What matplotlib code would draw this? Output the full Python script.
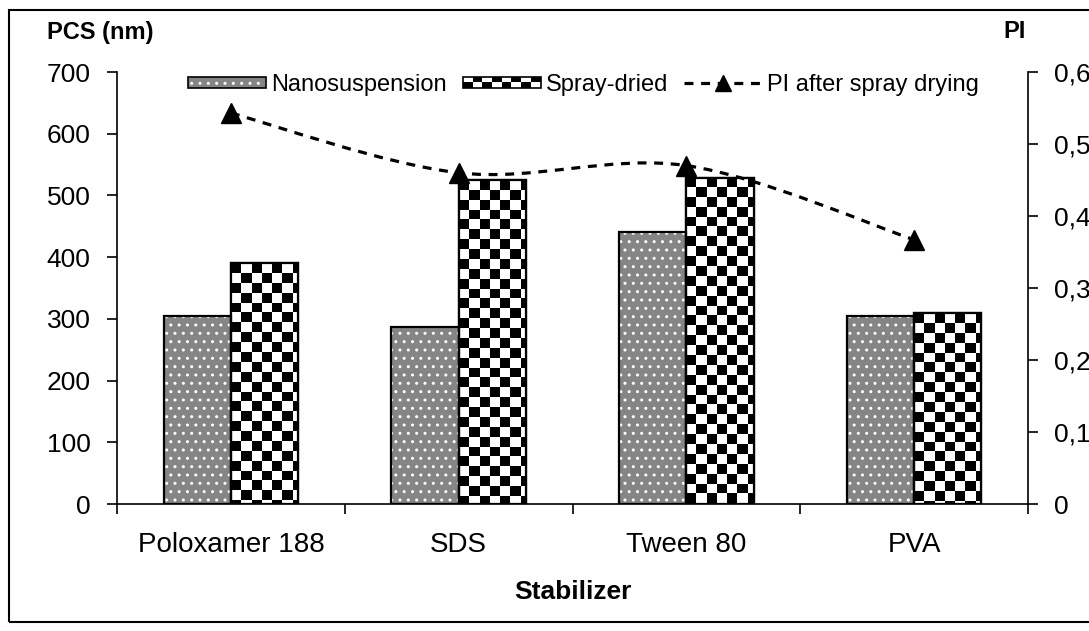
import numpy as np
import matplotlib
matplotlib.use('Agg')
import matplotlib.pyplot as plt
from matplotlib.patches import Rectangle
from matplotlib.lines import Line2D
from matplotlib.path import Path
from matplotlib.patches import PathPatch
from matplotlib.legend_handler import HandlerBase

plt.rcParams['font.family'] = ['Liberation Sans', 'DejaVu Sans']
plt.rcParams['hatch.linewidth'] = 1.0

# data
stabilizers = ['Poloxamer 188', 'SDS', 'Tween 80', 'PVA']
nano_size = [304, 287, 440, 304]
spray_size = [390, 525, 529, 309]
pi_after = [0.543, 0.460, 0.470, 0.367]
left_ticks = [0, 100, 200, 300, 400, 500, 600, 700]
right_ticks = [0, 0.1, 0.2, 0.3, 0.4, 0.5, 0.6]
right_labels = ['0', '0,1', '0,2', '0,3', '0,4', '0,5', '0,6']

NANO_FACE = '#858585'
W = 0.295
CELL_X = W / 6.6
CELL_Y = 16.0
DASH = (0, (2.8, 2.4))

fig = plt.figure(figsize=(10.89, 6.31), dpi=100)
ax = fig.add_axes([117 / 1089, 127 / 631, (1028 - 117) / 1089, (504 - 72) / 631])
ax2 = ax.twinx()

x = np.arange(len(stabilizers))

# nanosuspension: gray with white dots
ax.bar(x - W / 2, nano_size, W, facecolor=NANO_FACE, edgecolor='white',
       hatch='..', linewidth=0, zorder=2)
ax.bar(x - W / 2, nano_size, W, fill=False, edgecolor='black', linewidth=1.6, zorder=4)

# spray-dried: checkerboard clipped into each bar
spray = ax.bar(x + W / 2, spray_size, W, facecolor='white', edgecolor='black',
               linewidth=1.6, zorder=2)
for b in spray:
    left = b.get_x()
    h = b.get_height()
    ncol = int(np.ceil(W / CELL_X))
    nrow = int(np.ceil(h / CELL_Y))
    board = (np.add.outer(np.arange(nrow), np.arange(ncol)) % 2).astype(float)
    im = ax.imshow(board, cmap='gray', vmin=0, vmax=1, interpolation='nearest',
                   extent=[left, left + ncol * CELL_X, h - nrow * CELL_Y, h],
                   origin='upper', aspect='auto', zorder=3)
    im.set_clip_path(b)
ax.bar(x + W / 2, spray_size, W, fill=False, edgecolor='black', linewidth=1.6, zorder=4)

ax.set_xlim(-0.5, len(stabilizers) - 0.5)
ax.set_ylim(0, 700)
ax.set_yticks(left_ticks)
ax.set_xticks(np.arange(len(stabilizers) + 1) - 0.5)
ax.set_xticklabels([])
ax.set_xticks(x, minor=True)
ax.set_xticklabels(stabilizers, minor=True)
ax.tick_params(axis='x', which='minor', length=0, pad=20, labelsize=20)
ax.tick_params(axis='x', which='major', direction='out', length=7, width=1.2)
ax.tick_params(axis='y', direction='out', length=7, width=1.2, labelsize=19, pad=12)
for s in ['top', 'right']:
    ax.spines[s].set_visible(False)
for s in ['left', 'bottom']:
    ax.spines[s].set_linewidth(1.2)

# PI line, smoothed like the spreadsheet curve (bezier through the points)
ax2.set_ylim(0, 0.6)
ax2.set_yticks(right_ticks)
ax2.set_yticklabels(right_labels)
ax2.tick_params(axis='y', direction='out', length=7, width=1.2, labelsize=19, pad=12)
for s in ['top', 'left', 'bottom']:
    ax2.spines[s].set_visible(False)
ax2.spines['right'].set_linewidth(1.2)

px = list(x.astype(float))
py = list(pi_after)
verts = [(px[0], py[0])]
codes = [Path.MOVETO]
n = len(px)
for i in range(n - 1):
    p0 = (px[max(i - 1, 0)], py[max(i - 1, 0)])
    p1 = (px[i], py[i])
    p2 = (px[i + 1], py[i + 1])
    p3 = (px[min(i + 2, n - 1)], py[min(i + 2, n - 1)])
    c1 = (p1[0] + (p2[0] - p0[0]) / 6, p1[1] + (p2[1] - p0[1]) / 6)
    c2 = (p2[0] - (p3[0] - p1[0]) / 6, p2[1] - (p3[1] - p1[1]) / 6)
    verts += [c1, c2, p2]
    codes += [Path.CURVE4] * 3
curve = PathPatch(Path(verts, codes), fill=False, edgecolor='black', linewidth=2.3,
                  linestyle=DASH, transform=ax2.transData, zorder=5)
ax2.add_patch(curve)
ax2.plot(x, pi_after, linestyle='none', marker='^', markersize=15,
         color='black', zorder=6)


class PatternHandler(HandlerBase):
    def __init__(self, kind):
        super().__init__()
        self.kind = kind

    def create_artists(self, legend, orig_handle, xdescent, ydescent, width,
                       height, fontsize, trans):
        arts = []
        y0 = -ydescent + height * 0.15
        hh = height * 0.7
        if self.kind == 'nano':
            arts.append(Rectangle((-xdescent, y0), width, hh, facecolor=NANO_FACE,
                                  edgecolor='white', hatch='..', linewidth=0,
                                  transform=trans))
        else:
            arts.append(Rectangle((-xdescent, y0), width, hh, facecolor='white',
                                  edgecolor='none', transform=trans))
            nc = 8
            cw = width / nc
            for r in range(2):
                for c in range(nc):
                    if (r + c) % 2 == 0:
                        arts.append(Rectangle((-xdescent + c * cw, y0 + r * hh / 2),
                                              cw, hh / 2, facecolor='black',
                                              edgecolor='none', transform=trans))
        arts.append(Rectangle((-xdescent, y0), width, hh, fill=False,
                              edgecolor='black', linewidth=1.2, transform=trans))
        return arts


h_nano = Rectangle((0, 0), 1, 1)
h_spray = Rectangle((0, 0), 1, 1)
h_pi = Line2D([], [], color='black', linestyle=DASH, linewidth=2.3,
              marker='^', markersize=12)
leg = ax.legend([h_nano, h_spray, h_pi],
                ['Nanosuspension', 'Spray-dried', 'PI after spray drying'],
                handler_map={h_nano: PatternHandler('nano'),
                             h_spray: PatternHandler('spray')},
                loc='upper center', bbox_to_anchor=(0.512, 1.045), ncol=3,
                frameon=False, fontsize=17, handlelength=3.3, handleheight=0.6,
                handletextpad=0.2, columnspacing=0.7)
leg.set_zorder(10)

fig.text(47 / 1089, 1 - 32 / 631, 'PCS (nm)', fontsize=17, fontweight='bold',
         ha='left', va='center')
fig.text(1003 / 1089, 1 - 32 / 631, 'PI', fontsize=17, fontweight='bold',
         ha='left', va='center')
ax.set_xlabel('Stabilizer', fontsize=19, fontweight='bold', labelpad=16)

fig.patches.append(Rectangle((9 / 1089, 9 / 631), 1.2, 1 - 19 / 631, fill=False,
                             edgecolor='black', linewidth=1.5,
                             transform=fig.transFigure, figure=fig))

fig.savefig('out.png', dpi=100)
